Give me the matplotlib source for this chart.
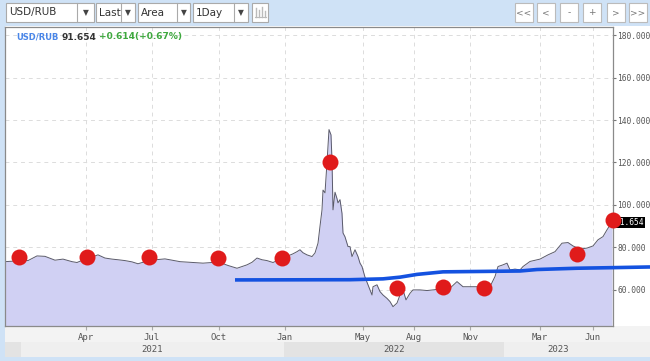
import matplotlib
matplotlib.use("Agg")
import matplotlib.pyplot as plt
from matplotlib.patches import Rectangle
from matplotlib.lines import Line2D
from matplotlib.transforms import blended_transform_factory

W, H = 650, 361

# USD/RUB close, x = trading session offset from the left edge of the chart
session = [0, 7, 15, 23, 32, 40, 50, 58, 67, 72, 80, 87, 93, 100, 107, 113, 120, 127,
           133, 140, 147, 153, 160, 167, 175, 185, 198, 207, 215, 223, 232, 237, 242,
           247, 252, 257, 262, 268, 273, 278, 283, 288, 292, 295, 298, 302, 307, 310,
           313, 315, 317, 318, 320, 322, 324, 326, 327, 328, 330, 332, 333, 335, 337,
           338, 340, 343, 345, 347, 350, 353, 355, 357, 360, 363, 367, 368, 372, 375,
           378, 382, 385, 388, 392, 395, 398, 401, 405, 408, 415, 422, 428, 435, 442,
           445, 452, 458, 465, 472, 478, 485, 490, 493, 498, 502, 505, 510, 515, 518,
           525, 535, 543, 550, 557, 563, 568, 575, 582, 588, 593, 598, 602, 605, 607]
usd_rub = [73.3, 73.5, 74.0, 73.8, 76.0, 75.8, 74.0, 74.5, 73.3, 72.9, 74.5, 75.5,
           76.5, 75.0, 74.5, 74.2, 73.8, 73.2, 72.3, 73.3, 73.8, 74.3, 74.6, 74.0,
           73.3, 73.0, 72.6, 72.9, 72.9, 71.5, 70.2, 71.0, 71.8, 73.0, 75.0, 74.2,
           73.8, 72.9, 74.0, 75.0, 76.0, 77.0, 78.0, 78.9, 77.5, 76.5, 75.7, 77.4,
           82.0, 90.0, 97.7, 107.0, 105.7, 120.0, 135.5, 133.0, 121.0, 97.7, 106.0,
           103.0, 101.0, 102.5, 96.0, 86.8, 85.0, 80.4, 80.4, 75.7, 78.9, 75.7, 72.6,
           71.0, 66.0, 62.4, 57.6, 61.5, 62.4, 59.2, 57.6, 56.0, 54.5, 52.1, 53.8,
           57.6, 60.0, 55.3, 58.4, 60.0, 60.0, 59.7, 60.0, 60.4, 58.4, 60.8, 63.9,
           61.5, 61.5, 61.5, 60.8, 61.5, 66.3, 71.0, 71.8, 72.6, 69.4, 69.8, 69.4,
           71.0, 73.4, 74.5, 76.5, 78.0, 82.0, 82.3, 80.7, 79.2, 79.7, 80.7, 83.6,
           85.1, 88.3, 90.5, 91.654]

# red markers
dot_session = [14, 82, 144, 213, 277, 325, 392, 438, 479, 572, 608]
dot_value = [75.7, 75.4, 75.4, 75.0, 75.2, 120.3, 60.8, 61.3, 61.1, 76.8, 92.7]

# blue moving line
ma_session = [230, 345, 378, 395, 412, 438, 478, 515, 532, 572, 610, 645]
ma_value = [64.7, 64.8, 65.2, 66.0, 67.3, 68.5, 68.7, 68.9, 69.6, 70.2, 70.5, 70.8]

month_pos = [81, 147, 214, 280, 358, 409, 465, 535, 588]
month_lbl = ["Apr", "Jul", "Oct", "Jan", "May", "Aug", "Nov", "Mar", "Jun"]
year_start = [0, 16, 279, 499]
year_lbl = ["", "2021", "2022", "2023"]
y_ticks = [60, 80, 100, 120, 140, 160, 180]
last_price = 91.654


def fbox(x, y, w, h):
    # pixel box (from top-left) -> figure fraction rectangle args
    return (x / W, 1 - (y + h) / H), w / W, h / H


fig = plt.figure(figsize=(6.5, 3.61), dpi=100, facecolor="#cfe2f6")

# chart panel and bottom strips
for (x, y, w, h), c in [((5, 26, 645, 300), "white"),
                        ((5, 326, 645, 16), "#f3f3f3")]:
    xy, ww, hh = fbox(x, y, w, h)
    fig.add_artist(Rectangle(xy, ww, hh, transform=fig.transFigure,
                             facecolor=c, edgecolor="none", zorder=0))

ax = fig.add_axes([5 / W, 1 - 326 / H, 608 / W, 299 / H])
ax.set_facecolor("white")
ax.set_xlim(0, 608)
ax.set_ylim(43, 183.8)

ax.fill_between(session, usd_rub, 0, color="#d0d0f3", lw=0, zorder=1)
ax.plot(session, usd_rub, color="#5a5a6a", lw=0.7, zorder=2)
ax.plot(ma_session, ma_value, color="#1452e0", lw=2.6, zorder=3,
        clip_on=False, solid_capstyle="butt")
ax.plot(dot_session, dot_value, "o", color="#e01b1b", ms=11.5, mec="none",
        zorder=6, clip_on=False)

ax.set_yticks(y_ticks)
ax.yaxis.tick_right()
ax.set_yticklabels([f"{v:.3f}" for v in y_ticks], family="DejaVu Sans Mono",
                   fontsize=5.7, color="#555555")
ax.set_xticks(month_pos)
ax.set_xticklabels(month_lbl, fontsize=6.5, color="#555555",
                   family="DejaVu Sans Mono")
ax.tick_params(axis="y", length=2.5, color="#777777", pad=0.5)
ax.tick_params(axis="x", length=3, color="#aaaaaa", pad=2)
ax.grid(True, color="#dcdcdc", lw=0.7, ls=(0, (4, 4)))
ax.set_axisbelow(True)
for s in ax.spines.values():
    s.set_color("#8a8a8a")
    s.set_linewidth(0.9)

# last price tag
ax.annotate(f"{last_price:.3f}", xy=(1, last_price),
            xycoords=("axes fraction", "data"), xytext=(2, 0),
            textcoords="offset points", va="center", ha="left",
            fontsize=5.7, family="DejaVu Sans Mono", color="white",
            bbox=dict(boxstyle="square,pad=0.15", fc="black", ec="none"),
            annotation_clip=False, zorder=5)

# year band
tr = blended_transform_factory(ax.transData, fig.transFigure)
ends = year_start[1:] + [645]
for i, (a, b) in enumerate(zip(year_start, ends)):
    shade = "#e3e3e3" if i % 2 == 0 else "#efefef"
    fig.add_artist(Rectangle((a, 1 - 357 / H), b - a, 15 / H, transform=tr,
                             facecolor=shade, edgecolor="none", zorder=0))
    if year_lbl[i]:
        mid = (a + min(b, 608)) / 2
        fig.text(mid, 1 - 350 / H, year_lbl[i], transform=tr, ha="center",
                 va="center", fontsize=6.5, color="#555555",
                 family="DejaVu Sans Mono")

# header
hy = 1 - 37 / H
fig.text(16 / W, hy, "USD/RUB", color="#4a86e8", fontsize=6,
         fontweight="bold", va="center")
fig.text(62 / W, hy, "91.654", color="#333333", fontsize=6.5,
         fontweight="bold", va="center")
fig.text(99 / W, hy, "+0.614(+0.67%)", color="#3ea83e", fontsize=6.5,
         fontweight="bold", va="center")

# toolbar dropdowns
for x0, x1, xd, label in [(6, 94, 77, "USD/RUB"), (96, 135, 121, "Last"),
                          (138, 190, 177, "Area"), (193, 248, 234, "1Day")]:
    xy, ww, hh = fbox(x0, 3, x1 - x0, 19)
    fig.add_artist(Rectangle(xy, ww, hh, transform=fig.transFigure,
                             facecolor="white", edgecolor="#aaaaaa", lw=0.8))
    fig.add_artist(Line2D([xd / W, xd / W], [1 - 3 / H, 1 - 22 / H],
                          transform=fig.transFigure, color="#aaaaaa", lw=0.8))
    fig.text((x0 + 3) / W, 1 - 12.5 / H, label, fontsize=7.5, color="#333333",
             va="center")
    fig.text((xd + x1) / 2 / W, 1 - 12.5 / H, "▼", fontsize=5.5,
             color="#444444", va="center", ha="center")

# chart-type icon
xy, ww, hh = fbox(252, 3, 16, 19)
fig.add_artist(Rectangle(xy, ww, hh, transform=fig.transFigure,
                         facecolor="white", edgecolor="#aaaaaa", lw=0.8))
for xi, top in zip([256, 259, 262, 265], [8, 10, 7, 11]):
    fig.add_artist(Line2D([xi / W, xi / W], [1 - top / H, 1 - 17 / H],
                          transform=fig.transFigure, color="#bbbbbb", lw=1))
fig.add_artist(Line2D([255 / W, 266 / W], [1 - 17 / H, 1 - 17 / H],
                      transform=fig.transFigure, color="#bbbbbb", lw=0.8))

# navigation buttons
for x0, sym in zip([515, 537, 560, 583, 607, 629],
                   ["<<", "<", "-", "+", ">", ">>"]):
    xy, ww, hh = fbox(x0, 3, 18, 19)
    fig.add_artist(Rectangle(xy, ww, hh, transform=fig.transFigure,
                             facecolor="white", edgecolor="#bbbbbb", lw=0.8))
    fig.text((x0 + 9) / W, 1 - 12.5 / H, sym, fontsize=6.5, color="#777777",
             va="center", ha="center")

fig.savefig("out.png", dpi=100, facecolor=fig.get_facecolor())
